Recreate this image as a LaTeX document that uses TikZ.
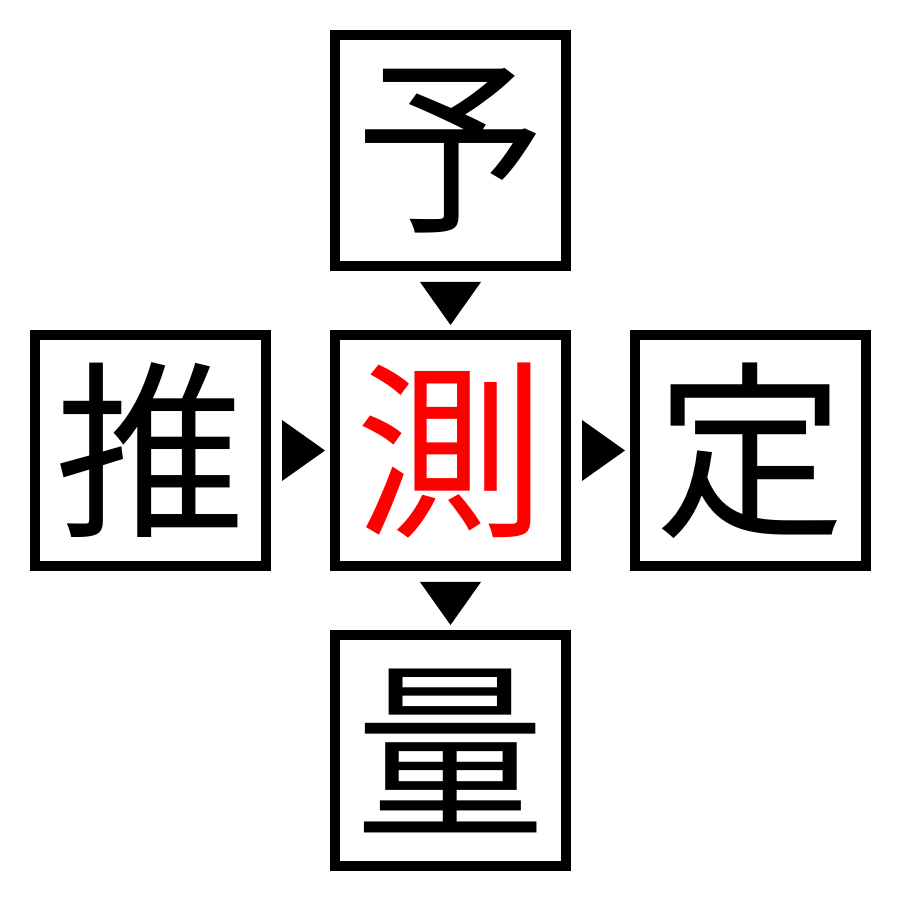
\documentclass[tikz,border=0pt]{standalone}
\usepackage{fontspec}
\newfontfamily\cjk{Noto Sans CJK JP}
\usetikzlibrary{calc}
\tikzset{
  kbox/.style={draw=black, line width=10pt, minimum size=231pt, inner sep=0pt, font=\cjk\fontsize{190}{190}\selectfont, text=black},
  marker/.style={fill=black, draw=none}
}
\begin{document}
\begin{tikzpicture}[x=1pt,y=1pt]
\useasboundingbox (0,0) rectangle (900,900);
\fill[white] (0,0) rectangle (900,900);
\node[kbox] (top) at (450.5,749.5) {予};
\node[kbox] (left) at (150.5,449.5) {推};
\node[kbox, text=red] (mid) at (450.5,449.5) {測};
\node[kbox] (right) at (750.5,449.5) {定};
\node[kbox] (bot) at (450.5,149.5) {量};
% down marker between top and mid
\fill[marker] ($(top.south)+(-30.5,-11)$) -- ($(top.south)+(30.5,-11)$) -- ($(top.south)+(0,-54)$) -- cycle;
% down marker between mid and bottom
\fill[marker] ($(mid.south)+(-30.5,-11)$) -- ($(mid.south)+(30.5,-11)$) -- ($(mid.south)+(0,-54)$) -- cycle;
% right marker between left and mid
\fill[marker] ($(left.east)+(11,30.5)$) -- ($(left.east)+(11,-30.5)$) -- ($(left.east)+(54,0)$) -- cycle;
% right marker between mid and right
\fill[marker] ($(mid.east)+(11,30.5)$) -- ($(mid.east)+(11,-30.5)$) -- ($(mid.east)+(54,0)$) -- cycle;
\end{tikzpicture}
\end{document}
